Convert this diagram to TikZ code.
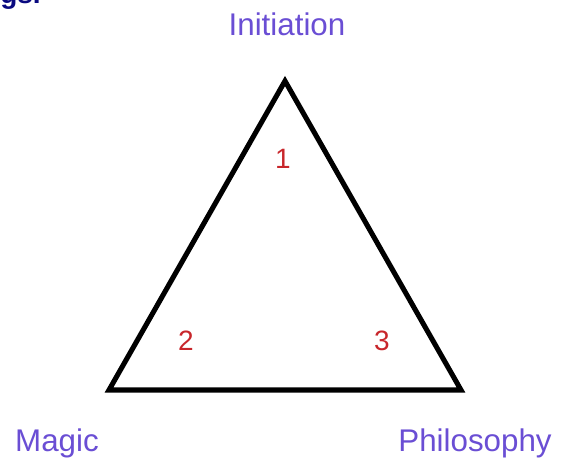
\documentclass[tikz,border=0pt]{standalone}
\usepackage{fontspec}
\setmainfont{Liberation Sans}
\usepackage{xcolor}
\usetikzlibrary{positioning}
\definecolor{vertexblue}{HTML}{6A4ED4}
\definecolor{numred}{HTML}{C8262B}
\definecolor{navy}{HTML}{0A0A80}
\tikzset{
  corner/.style={font=\fontsize{23.5pt}{26pt}\selectfont,text=vertexblue,inner sep=0pt},
  areanum/.style={font=\fontsize{21pt}{24pt}\selectfont,text=numred,inner sep=0pt},
  edge/.style={line width=3.8pt,line join=miter,black}
}
\begin{document}
\begin{tikzpicture}[x=0.75pt,y=-0.75pt]
  \useasboundingbox (0,0) rectangle (568,468);
  \clip (0,0) rectangle (568,468);
  % cut-off text from the page above
  \node[anchor=base west,inner sep=0pt,text=navy,font=\fontsize{21pt}{24pt}\selectfont\bfseries] (cut) at (0,3) {gs.};
  % corners of the triangle
  \coordinate (top) at (285,81);
  \coordinate (left) at (109,390);
  \coordinate (right) at (461,390);
  \draw[edge] (top) -- (left) -- (right) -- cycle;
  % names at the corners
  \node[corner] (init) at (287,24) {Initiation};
  \node[corner] (magic) at (57,443) {Magic};
  \node[corner] (philo) at (475,443) {Philosophy};
  % numbers inside
  \node[areanum] (n1) at (283,159) {1};
  \node[areanum] (n2) at (186,341) {2};
  \node[areanum] (n3) at (382,341) {3};
\end{tikzpicture}
\end{document}
